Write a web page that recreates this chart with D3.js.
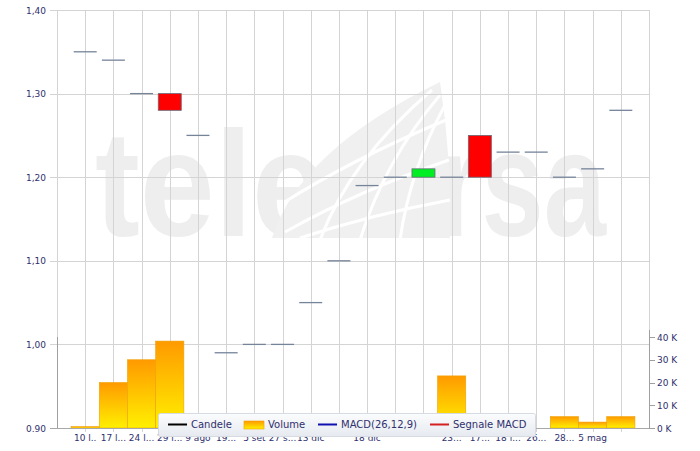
<!DOCTYPE html>
<html><head><meta charset="utf-8">
<script src="https://cdn.jsdelivr.net/npm/d3@7"></script>
<style>html,body{margin:0;padding:0;background:#fff;}svg{display:block;}</style>
</head><body>
<svg id="chart" width="700" height="451"></svg>
<script>
// ---- data ----
const categories = ["10 l..","17 l...","24 l...","29 l...","9 ago","19...","5 set","27 s...","13 dic","","18 dic","","","23...","17...","18 l...","26...","28...","5 mag",""];
const openVals  = [1.35,1.34,1.30,1.30,1.25,0.99,1.00,1.00,1.05,1.10,1.19,1.20,1.20,1.20,1.25,1.23,1.23,1.20,1.21,1.28];
const closeVals = [1.35,1.34,1.30,1.28,1.25,0.99,1.00,1.00,1.05,1.10,1.19,1.20,1.21,1.20,1.20,1.23,1.23,1.20,1.21,1.28];
const volumes   = [0.6,20,30,38.2,0,0,0,0,0,0,0,0,0,22.9,0,0,0,5,2.6,5]; // thousands
const priceTicks = [0.9,1.0,1.1,1.2,1.3,1.4];
const priceTickLabels = ["0.90","1,00","1,10","1,20","1,30","1,40"];
const volTicks = [0,10,20,30,40];
const volTickLabels = ["0 K","10 K","20 K","30 K","40 K"];
const legendItems = ["Candele","Volume","MACD(26,12,9)","Segnale MACD"];

// ---- layout ----
const L = 57, R = 649, T = 10, B = 428;
const svg = d3.select("#chart");
const font = "DejaVu Sans, Verdana, sans-serif";
const txtCol = "#30306e";

const x = d3.scalePoint().domain(d3.range(categories.length)).range([L, R]).padding(1);
const step = x.step();
const yP = d3.scaleLinear().domain([0.9, 1.4]).range([B, T]);
const yV = d3.scaleLinear().domain([0, 40]).range([B, 337]);

const defs = svg.append("defs");
const g1 = defs.append("linearGradient").attr("id","volg").attr("x1",0).attr("y1",0).attr("x2",0).attr("y2",1);
g1.append("stop").attr("offset","0%").attr("stop-color","#ff9a00");
g1.append("stop").attr("offset","100%").attr("stop-color","#fff000");
const g2 = defs.append("linearGradient").attr("id","legg").attr("x1",0).attr("y1",0).attr("x2",0).attr("y2",1);
g2.append("stop").attr("offset","0%").attr("stop-color","#fbfcfd");
g2.append("stop").attr("offset","100%").attr("stop-color","#e6eaf0");

// ---- watermark ----
const wm = svg.append("g").attr("fill","#eeeeee");
wm.append("text").attr("x",95).attr("y",236).attr("font-family","Liberation Sans, Arial, sans-serif")
  .attr("font-weight","bold").attr("font-size",150).attr("textLength",232).attr("lengthAdjust","spacingAndGlyphs").text("tele");
wm.append("text").attr("x",438).attr("y",236).attr("font-family","Liberation Sans, Arial, sans-serif")
  .attr("font-weight","bold").attr("font-size",150).attr("textLength",168).attr("lengthAdjust","spacingAndGlyphs").text("rsa");
// sail-shaped swoosh replacing "bo"
wm.append("path").attr("d","M272,238 Q300,150 440,82 Q452,160 450,238 Z").attr("fill","#f0f0f0");
const cuts = [
  "M280,205 Q350,160 446,120",
  "M285,232 Q360,190 449,160",
  "M300,238 Q370,215 450,200",
  "M320,240 Q350,160 432,90",
  "M360,240 Q385,160 440,95",
  "M400,240 Q410,170 445,105"
];
wm.selectAll("path.cut").data(cuts).join("path").attr("class","cut").attr("d",d=>d)
  .attr("fill","none").attr("stroke","#ffffff").attr("stroke-width",3);

// ---- grid ----
const grid = svg.append("g").attr("stroke","#d4d4d4").attr("stroke-width",1).attr("shape-rendering","crispEdges");
grid.selectAll("line.h").data(priceTicks).join("line")
  .attr("x1",L-7).attr("x2",R).attr("y1",d=>Math.round(yP(d))+0.5).attr("y2",d=>Math.round(yP(d))+0.5);
grid.selectAll("line.v").data(d3.range(categories.length)).join("line")
  .attr("x1",d=>Math.round(x(d))+0.5).attr("x2",d=>Math.round(x(d))+0.5).attr("y1",T).attr("y2",B+4);
grid.append("line").attr("x1",L+0.5).attr("x2",L+0.5).attr("y1",T).attr("y2",B);
grid.append("line").attr("x1",R+0.5).attr("x2",R+0.5).attr("y1",T).attr("y2",B);

// ---- volume bars ----
svg.append("g").selectAll("rect").data(volumes).join("rect")
  .attr("x",(d,i)=>x(i)-step/2).attr("width",step)
  .attr("y",d=>yV(d)).attr("height",d=>B-yV(d))
  .attr("fill","url(#volg)").attr("stroke",d=>d>0?"#f0a000":"none").attr("stroke-width",0.6)
  .attr("display",d=>d>0?null:"none");

// ---- candles ----
const cw = 23;
const cg = svg.append("g");
openVals.forEach((o,i)=>{
  const c = closeVals[i];
  if (o === c) {
    cg.append("line").attr("x1",x(i)-cw/2).attr("x2",x(i)+cw/2)
      .attr("y1",yP(o)).attr("y2",yP(o)).attr("stroke","#76849a").attr("stroke-width",1.3);
  } else {
    cg.append("rect").attr("x",x(i)-cw/2).attr("width",cw)
      .attr("y",yP(Math.max(o,c))).attr("height",Math.abs(yP(o)-yP(c)))
      .attr("fill",c<o?"#ff0000":"#00ee22").attr("stroke","#666a78").attr("stroke-width",0.8);
  }
});

// ---- axes ----
const ax = svg.append("g").attr("font-family",font).attr("font-size",9).attr("fill",txtCol);
ax.selectAll("text.py").data(priceTicks).join("text")
  .attr("x",46).attr("y",d=>yP(d)+3.5).attr("text-anchor","end").text((d,i)=>priceTickLabels[i]);
svg.append("line").attr("x1",L+0.5).attr("x2",L+0.5).attr("y1",337).attr("y2",B).attr("stroke","#a0a0a0");
svg.append("line").attr("x1",L-7).attr("x2",R).attr("y1",B+0.5).attr("y2",B+0.5).attr("stroke","#a8a8a8");
svg.append("line").attr("x1",R+0.5).attr("x2",R+0.5).attr("y1",330).attr("y2",B).attr("stroke","#a0a0a0");
svg.append("g").attr("stroke","#a0a0a0").selectAll("line").data(volTicks).join("line")
  .attr("x1",R).attr("x2",R+6).attr("y1",d=>Math.round(yV(d))+0.5).attr("y2",d=>Math.round(yV(d))+0.5);
ax.selectAll("text.vy").data(volTicks).join("text")
  .attr("x",R+8).attr("y",d=>yV(d)+3.5).attr("text-anchor","start").text((d,i)=>volTickLabels[i]);
ax.selectAll("text.cx").data(categories).join("text")
  .attr("x",(d,i)=>x(i)).attr("y",441).attr("text-anchor","middle").text(d=>d);

// ---- legend ----
const lg = svg.append("g");
lg.append("rect").attr("x",158.5).attr("y",413.5).attr("width",377).attr("height",23).attr("rx",2)
  .attr("fill","url(#legg)").attr("stroke","#d6dbe2");
const lx = [168, 244, 318, 430];
const lcol = ["#000000", null, "#1010b0", "#d42020"];
legendItems.forEach((t,i)=>{
  if (i === 1) {
    lg.append("rect").attr("x",lx[i]).attr("y",421).attr("width",20).attr("height",8)
      .attr("fill","url(#volg)").attr("stroke","#f0a000").attr("stroke-width",0.6);
  } else {
    lg.append("line").attr("x1",lx[i]).attr("x2",lx[i]+19).attr("y1",424.5).attr("y2",424.5)
      .attr("stroke",lcol[i]).attr("stroke-width",2);
  }
  lg.append("text").attr("x",lx[i]+(i===1?24:23)).attr("y",428).attr("font-family",font).attr("font-size",10)
    .attr("fill",txtCol).text(t);
});
</script>
</body></html>
